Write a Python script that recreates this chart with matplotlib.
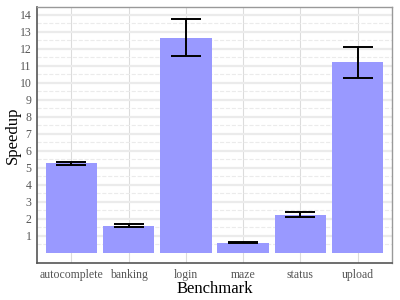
import matplotlib
matplotlib.use('Agg')
import matplotlib.pyplot as plt
import numpy as np

# data
benchmarks = ['autocomplete', 'banking', 'login', 'maze', 'status', 'upload']
speedup = [5.27, 1.60, 12.66, 0.59, 2.22, 11.21]
err_low = [5.17, 1.50, 11.60, 0.58, 2.08, 10.27]
err_high = [5.36, 1.69, 13.74, 0.62, 2.38, 12.13]

plt.rcParams['font.family'] = ['Liberation Serif', 'DejaVu Serif']

fig = plt.figure(figsize=(4, 3), dpi=100)
ax = fig.add_axes([0.0925, 0.1233, 0.8875, 0.8534])

x = np.arange(len(benchmarks))
yerr = [np.array(speedup) - np.array(err_low), np.array(err_high) - np.array(speedup)]

ax.bar(x, speedup, width=0.9, color='#9999ff', zorder=2)
ax.errorbar(x, speedup, yerr=yerr, fmt='none', ecolor='black',
            elinewidth=1.4, capsize=10.5, capthick=1.4, zorder=3)

ax.set_xlim(-0.6, 5.6)
ax.set_ylim(-0.6, 14.47)
ax.set_xticks(x)
ax.set_xticklabels(benchmarks)
ax.set_yticks(range(1, 15))
ax.set_yticks(np.arange(0.5, 14.5, 1.0), minor=True)

# grid
ax.grid(axis='y', which='major', color='#ebebeb', linewidth=1.6, zorder=0)
ax.grid(axis='y', which='minor', color='#ebebeb', linewidth=0.8, linestyle='--', zorder=0)
ax.grid(axis='x', which='major', color='#dcdcdc', linewidth=0.8, zorder=0)
ax.set_axisbelow(True)

ax.tick_params(axis='both', which='both', length=0, labelsize=8.5, labelcolor='#555555', pad=4)

for side in ['left', 'bottom']:
    ax.spines[side].set_color('#555555')
    ax.spines[side].set_linewidth(1.2)
for side in ['top', 'right']:
    ax.spines[side].set_color('#999999')
    ax.spines[side].set_linewidth(1.0)

ax.set_xlabel('Benchmark', fontsize=12, labelpad=0)
ax.set_ylabel('Speedup', fontsize=12)
ax.yaxis.set_label_coords(-0.045, 0.5)

fig.savefig('out.png', dpi=100)
